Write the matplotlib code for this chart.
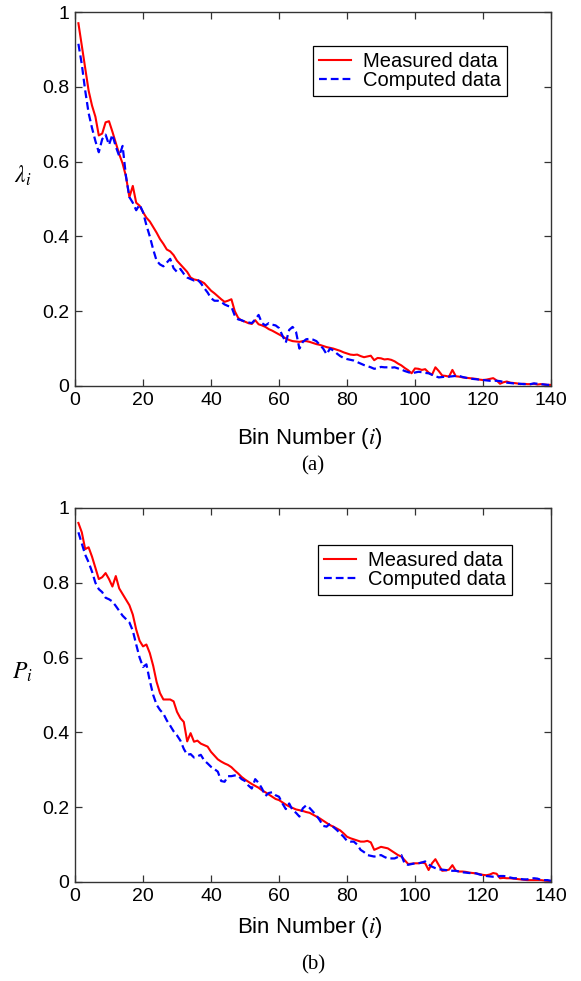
import numpy as np
import matplotlib
matplotlib.use("Agg")
import matplotlib.pyplot as plt

plt.rcParams['font.family'] = ['Liberation Sans', 'DejaVu Sans']
plt.rcParams['mathtext.fontset'] = 'stix'

# ---------- data ----------
bins = np.arange(1, 141)

lam_measured = [
    0.97, 0.91, 0.85, 0.79, 0.75, 0.72, 0.67, 0.675, 0.705, 0.708,
    0.68, 0.65, 0.62, 0.595, 0.56, 0.505, 0.535, 0.49, 0.482, 0.465,
    0.45, 0.44, 0.425, 0.41, 0.393, 0.38, 0.365, 0.36, 0.35, 0.335,
    0.325, 0.315, 0.305, 0.29, 0.285, 0.283, 0.28, 0.275, 0.265, 0.255,
    0.248, 0.24, 0.232, 0.225, 0.228, 0.232, 0.2, 0.182, 0.175, 0.172,
    0.168, 0.166, 0.176, 0.165, 0.162, 0.158, 0.152, 0.148, 0.143, 0.138,
    0.133, 0.127, 0.123, 0.12, 0.119, 0.118, 0.12, 0.12, 0.118, 0.115,
    0.112, 0.11, 0.107, 0.104, 0.102, 0.1, 0.097, 0.094, 0.09, 0.087,
    0.084, 0.083, 0.084, 0.08, 0.077, 0.079, 0.081, 0.069, 0.075, 0.074,
    0.071, 0.072, 0.07, 0.066, 0.06, 0.055, 0.048, 0.042, 0.034, 0.047,
    0.046, 0.043, 0.045, 0.036, 0.03, 0.05, 0.04, 0.028, 0.027, 0.025,
    0.043, 0.026, 0.025, 0.023, 0.022, 0.021, 0.02, 0.019, 0.017, 0.016,
    0.017, 0.019, 0.021, 0.015, 0.006, 0.01, 0.012, 0.009, 0.008, 0.007,
    0.005, 0.006, 0.005, 0.005, 0.006, 0.004, 0.005, 0.004, 0.003, 0.003,
]

lam_computed = [
    0.915, 0.86, 0.79, 0.73, 0.69, 0.655, 0.625, 0.66, 0.672, 0.645,
    0.672, 0.64, 0.615, 0.642, 0.56, 0.505, 0.49, 0.47, 0.485, 0.465,
    0.43, 0.4, 0.365, 0.335, 0.325, 0.32, 0.33, 0.34, 0.315, 0.305,
    0.313, 0.3, 0.29, 0.286, 0.282, 0.285, 0.275, 0.262, 0.25, 0.235,
    0.228, 0.228, 0.225, 0.218, 0.214, 0.212, 0.188, 0.178, 0.176, 0.172,
    0.17, 0.168, 0.178, 0.19, 0.168, 0.162, 0.168, 0.164, 0.162, 0.155,
    0.135, 0.116, 0.15, 0.158, 0.145, 0.1, 0.118, 0.125, 0.126, 0.124,
    0.12, 0.11, 0.1, 0.085, 0.1, 0.095, 0.087, 0.08, 0.075, 0.072,
    0.07, 0.068, 0.064, 0.06, 0.056, 0.053, 0.05, 0.046, 0.048, 0.051,
    0.05, 0.05, 0.049, 0.05, 0.047, 0.044, 0.04, 0.037, 0.034, 0.036,
    0.038, 0.037, 0.035, 0.034, 0.03, 0.026, 0.023, 0.024, 0.025, 0.025,
    0.026, 0.027, 0.027, 0.024, 0.022, 0.02, 0.019, 0.018, 0.017, 0.016,
    0.015, 0.014, 0.014, 0.014, 0.013, 0.011, 0.009, 0.008, 0.007, 0.006,
    0.006, 0.005, 0.005, 0.005, 0.007, 0.006, 0.005, 0.004, 0.003, 0.003,
]

p_measured = [
    0.96, 0.935, 0.89, 0.895, 0.87, 0.84, 0.81, 0.815, 0.826, 0.81,
    0.79, 0.818, 0.785, 0.77, 0.755, 0.74, 0.715, 0.675, 0.645, 0.63,
    0.635, 0.612, 0.578, 0.535, 0.505, 0.488, 0.488, 0.488, 0.483, 0.455,
    0.438, 0.428, 0.376, 0.398, 0.375, 0.378, 0.37, 0.366, 0.362, 0.348,
    0.338, 0.328, 0.322, 0.317, 0.313, 0.307, 0.298, 0.29, 0.281, 0.274,
    0.268, 0.262, 0.257, 0.252, 0.245, 0.24, 0.234, 0.228, 0.222, 0.219,
    0.213, 0.207, 0.202, 0.198, 0.194, 0.192, 0.19, 0.187, 0.185, 0.18,
    0.175, 0.17, 0.164, 0.158, 0.152, 0.148, 0.143, 0.138, 0.13, 0.121,
    0.117, 0.114, 0.111, 0.108, 0.108, 0.11, 0.106, 0.086, 0.09, 0.094,
    0.092, 0.09, 0.084, 0.078, 0.072, 0.068, 0.058, 0.048, 0.049, 0.05,
    0.05, 0.052, 0.05, 0.032, 0.05, 0.061, 0.045, 0.03, 0.031, 0.033,
    0.045, 0.03, 0.028, 0.028, 0.027, 0.025, 0.024, 0.023, 0.021, 0.019,
    0.018, 0.02, 0.024, 0.022, 0.01, 0.011, 0.01, 0.01, 0.009, 0.008,
    0.007, 0.006, 0.005, 0.005, 0.005, 0.005, 0.005, 0.004, 0.003, 0.003,
]

p_computed = [
    0.935, 0.905, 0.875, 0.855, 0.83, 0.8, 0.783, 0.775, 0.76, 0.756,
    0.75, 0.738, 0.725, 0.712, 0.703, 0.694, 0.672, 0.635, 0.6, 0.575,
    0.582, 0.538, 0.5, 0.474, 0.46, 0.45, 0.432, 0.418, 0.403, 0.392,
    0.378, 0.356, 0.34, 0.342, 0.333, 0.336, 0.34, 0.325, 0.317, 0.308,
    0.302, 0.295, 0.27, 0.268, 0.283, 0.283, 0.285, 0.284, 0.275, 0.27,
    0.258, 0.25, 0.275, 0.265, 0.25, 0.23, 0.238, 0.24, 0.232, 0.228,
    0.21, 0.195, 0.21, 0.192, 0.185, 0.175, 0.197, 0.205, 0.198, 0.188,
    0.178, 0.165, 0.15, 0.148, 0.156, 0.147, 0.139, 0.13, 0.121, 0.11,
    0.108, 0.108, 0.1, 0.086, 0.08, 0.072, 0.07, 0.068, 0.07, 0.072,
    0.067, 0.063, 0.063, 0.063, 0.067, 0.072, 0.048, 0.046, 0.048, 0.05,
    0.05, 0.052, 0.055, 0.047, 0.041, 0.037, 0.034, 0.033, 0.032, 0.031,
    0.03, 0.03, 0.028, 0.026, 0.025, 0.024, 0.024, 0.023, 0.02, 0.018,
    0.016, 0.015, 0.014, 0.014, 0.016, 0.016, 0.015, 0.012, 0.01, 0.01,
    0.008, 0.007, 0.007, 0.009, 0.01, 0.009, 0.006, 0.005, 0.005, 0.003,
]

x_ticks = [0, 20, 40, 60, 80, 100, 120, 140]
y_ticks = [0, 0.2, 0.4, 0.6, 0.8, 1]
y_tick_labels = ['0', '0.2', '0.4', '0.6', '0.8', '1']


def draw_panel(ax, measured, computed, ylabel, legend_anchor):
    ax.plot(bins, measured, color='#ff0000', lw=1.5, label='Measured data')
    ax.plot(bins, computed, color='#0000ff', lw=1.6, dashes=(3.5, 1.8),
            label='Computed data')
    ax.set_xlim(0, 140)
    ax.set_ylim(0, 1)
    ax.set_xticks(x_ticks)
    ax.set_yticks(y_ticks)
    ax.set_yticklabels(y_tick_labels)
    ax.tick_params(direction='in', top=True, right=True, length=5,
                   width=0.9, labelsize=14, pad=4, color='#333333')
    for s in ax.spines.values():
        s.set_color('#333333')
        s.set_linewidth(1.0)
    ax.set_ylabel(ylabel, rotation=0, fontsize=17)
    ax.yaxis.set_label_coords(-0.11, 0.53)
    leg = ax.legend(loc='upper right', bbox_to_anchor=legend_anchor,
                    borderaxespad=0, fancybox=False, edgecolor='black',
                    fontsize=14.5, handlelength=1.6, handletextpad=0.6,
                    borderpad=0.3, labelspacing=0.0, framealpha=1)
    leg.get_frame().set_linewidth(0.9)


fig = plt.figure(figsize=(5.81, 9.81), dpi=100)
ax1 = fig.add_axes([75 / 581, (981 - 386) / 981, 476 / 581, 374 / 981])
ax2 = fig.add_axes([75 / 581, (981 - 882) / 981, 476 / 581, 374 / 981])

draw_panel(ax1, lam_measured, lam_computed, r'$\lambda_i$', (0.908, 0.909))
draw_panel(ax2, p_measured, p_computed, r'$P_i$', (0.918, 0.901))

xl = r'Bin Number ($\mathit{i}$)'
fig.text(310 / 581, 1 - 438 / 981, xl, ha='center', va='center', fontsize=16)
fig.text(310 / 581, 1 - 928 / 981, xl, ha='center', va='center', fontsize=16)
fig.text(313 / 581, 1 - 466 / 981, '(a)', ha='center', va='center',
         fontsize=15, family='Liberation Serif')
fig.text(313 / 581, 1 - 965 / 981, '(b)', ha='center', va='center',
         fontsize=15, family='Liberation Serif')

fig.savefig('out.png', dpi=100)
